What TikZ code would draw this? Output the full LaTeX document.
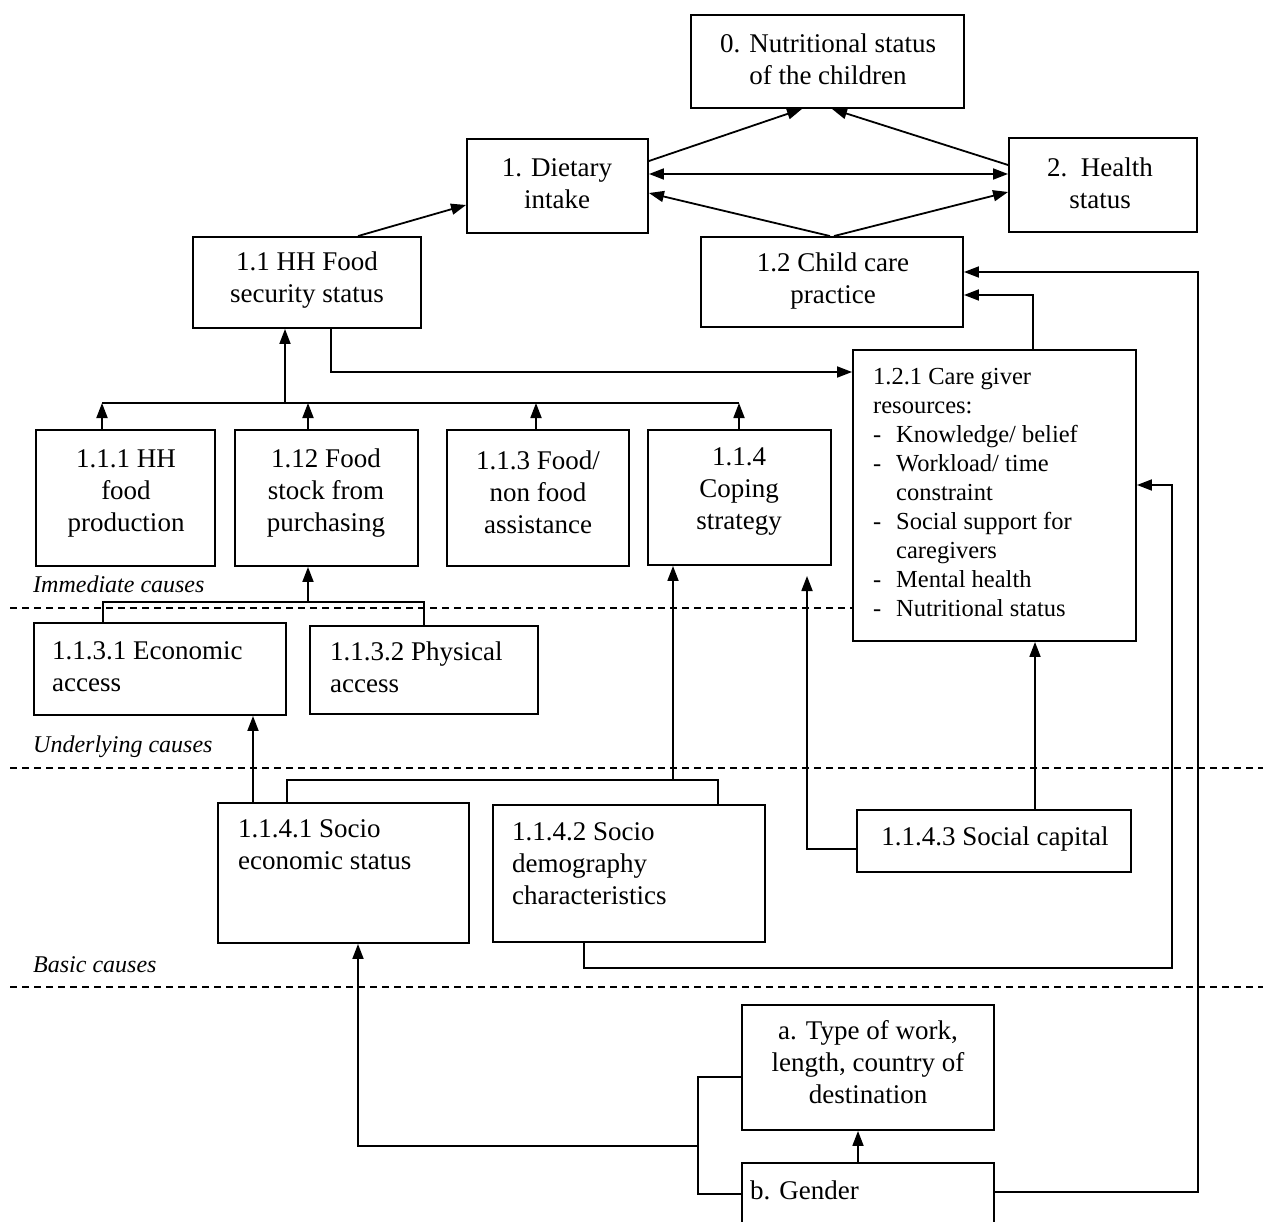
\documentclass[tikz,border=0pt]{standalone}
\usepackage{fontspec}
\setmainfont{Liberation Serif}
\usetikzlibrary{arrows.meta,calc}

\begin{document}
\begin{tikzpicture}[x=1pt,y=-1pt,
  box/.style={draw, line width=1.9pt, fill=white, inner sep=0pt},
  txt/.style={inner sep=0pt, align=center, font=\fontsize{27}{32}\selectfont},
  ltxt/.style={inner sep=0pt, align=left, anchor=west, font=\fontsize{27}{32}\selectfont},
  link/.style={line width=1.8pt},
  arr/.style={link, -{Triangle[length=15pt,width=11pt]}},
  dblarr/.style={link, {Triangle[length=15pt,width=11pt]}-{Triangle[length=15pt,width=11pt]}},
  level/.style={line width=1.6pt, dash pattern=on 7pt off 5pt},
  tier/.style={inner sep=0pt, anchor=west, font=\fontsize{24}{28}\selectfont\itshape}
]
\useasboundingbox (0,0) rectangle (1263,1222);
\clip (0,0) rectangle (1263,1222);
\fill[white] (0,0) rectangle (1263,1222);

% level separators
\draw[level] (10,608) -- (853,608);
\draw[level] (10,768) -- (1263,768);
\draw[level] (10,987) -- (1263,987);
\node[tier] (lab1) at (33,584) {Immediate causes};
\node[tier] (lab2) at (33,747) {Underlying causes};
\node[tier] (lab3) at (33,965) {Basic causes};

% boxes
\node[box, minimum width=273pt, minimum height=93pt]  (n0)    at (827.5,61.5) {};
\node[box, minimum width=181pt, minimum height=94pt]  (n1)    at (557.5,186)  {};
\node[box, minimum width=188pt, minimum height=94pt]  (n2)    at (1103,185)   {};
\node[box, minimum width=228pt, minimum height=91pt]  (n11)   at (307,282.5)  {};
\node[box, minimum width=262pt, minimum height=90pt]  (n12)   at (832,282)    {};
\node[box, minimum width=283pt, minimum height=291pt] (n121)  at (994.5,495.5){};
\node[box, minimum width=179pt, minimum height=136pt] (n111)  at (125.5,498)  {};
\node[box, minimum width=183pt, minimum height=136pt] (n112)  at (326.5,498)  {};
\node[box, minimum width=182pt, minimum height=136pt] (n113)  at (538,498)    {};
\node[box, minimum width=183pt, minimum height=135pt] (n114)  at (739.5,497.5){};
\node[box, minimum width=252pt, minimum height=92pt]  (n1131) at (160,669)    {};
\node[box, minimum width=228pt, minimum height=88pt]  (n1132) at (424,670)    {};
\node[box, minimum width=251pt, minimum height=140pt] (n1141) at (343.5,873)  {};
\node[box, minimum width=272pt, minimum height=137pt] (n1142) at (629,873.5)  {};
\node[box, minimum width=274pt, minimum height=62pt]  (n1143) at (994,841)    {};
\node[box, minimum width=252pt, minimum height=125pt] (na)    at (868,1067.5) {};
\node[box, minimum width=252pt, minimum height=77pt]  (nb)    at (868,1201.5) {};

% box texts
\node[txt] (n0t)   at (828,59)   {0. Nutritional status\\of the children};
\node[txt] (n1t)   at (557,184)  {1. Dietary\\intake};
\node[txt] (n2t)   at (1100,183) {2.\ \ Health\\status};
\node[txt] (n11t)  at (307,280)  {1.1 HH Food\\security status};
\node[txt] (n12t)  at (833,281)  {1.2 Child care\\practice};
\node[txt] (n111t) at (126,493)  {1.1.1 HH\\food\\production};
\node[txt] (n112t) at (326,493)  {1.12 Food\\stock from\\purchasing};
\node[txt] (n113t) at (538,492)  {1.1.3 Food/\\non food\\assistance};
\node[txt] (n114t) at (739,491)  {1.1.4\\Coping\\strategy};
\node[ltxt] (n1131t) at (52,667)  {1.1.3.1 Economic\\access};
\node[ltxt] (n1132t) at (330,667) {1.1.3.2 Physical\\access};
\node[ltxt] (n1141t) at (238,845) {1.1.4.1 Socio\\economic status};
\node[ltxt] (n1142t) at (512,864) {1.1.4.2 Socio\\demography\\characteristics};
\node[txt] (n1143t) at (995,839) {1.1.4.3 Social capital};
\node[txt] (nat)   at (868,1062) {a. Type of work,\\length, country of\\destination};
\node[ltxt] (nbt)  at (750,1190) {b. Gender};
\node[ltxt, font=\fontsize{24.5}{29}\selectfont] (n121t) at (873,493)
  {1.2.1 Care giver\\
   resources:\\
   \makebox[23pt][l]{-}Knowledge/ belief\\
   \makebox[23pt][l]{-}Workload/ time\\
   \hspace*{23pt}constraint\\
   \makebox[23pt][l]{-}Social support for\\
   \hspace*{23pt}caregivers\\
   \makebox[23pt][l]{-}Mental health\\
   \makebox[23pt][l]{-}Nutritional status};

% top level links
\draw[arr] (n1.east |- 0,161) -- (n0.south -| 802,0);
\draw[arr] (n2.west |- 0,165) -- (n0.south -| 832,0);
\draw[dblarr] (n1.east |- 0,174) -- (n2.west |- 0,174);
\draw[arr] (n12.north -| 830,0) -- (n1.east |- 0,193);
\draw[arr] (n12.north -| 834,0) -- (n2.west |- 0,192);
\draw[arr] (n11.north -| 358,0) -- (n1.west |- 0,205);

% household food security to care giver resources
\draw[arr] (n11.south -| 331,0) -- (331,372) -- (n121.west |- 0,372);

% immediate causes to food security
\draw[link] (102,403) -- (739,403);
\draw[arr] (n111.north -| 102,0) -- (102,403);
\draw[arr] (n112.north -| 308,0) -- (308,403);
\draw[arr] (n113.north -| 536,0) -- (536,403);
\draw[arr] (n114.north -| 739,0) -- (739,403);
\draw[arr] (285,403) -- (n11.south -| 285,0);

% access to food stock
\draw[link] (n1131.north -| 103,0) -- (103,602) -- (424,602) -- (n1132.north -| 424,0);
\draw[arr] (308,602) -- (n112.south -| 308,0);

% basic causes
\draw[arr] (n1141.north -| 253,0) -- (n1131.south -| 253,0);
\draw[link] (n1141.north -| 287,0) -- (287,780) -- (718,780) -- (n1142.north -| 718,0);
\draw[arr] (673,780) -- (n114.south -| 673,0);
\coordinate (capend) at (807,576);
\draw[arr] (n1143.west |- 0,849) -- (807,849) -- (capend);
\draw[arr] (n1143.north -| 1035,0) -- (n121.south -| 1035,0);
\draw[arr] (n121.north -| 1033,0) -- (1033,295) -- (n12.east |- 0,295);
\draw[arr] (n1142.south -| 584,0) -- (584,968) -- (1172,968) -- (1172,485) -- (n121.east |- 0,485);

% migration factors
\draw[arr] (nb.north -| 858,0) -- (na.south -| 858,0);
\draw[arr] (nb.east |- 0,1192) -- (1198,1192) -- (1198,272) -- (n12.east |- 0,272);
\draw[link] (na.west |- 0,1077) -- (698,1077) -- (698,1194) -- (nb.west |- 0,1194);
\draw[arr] (698,1146) -- (358,1146) -- (n1141.south -| 358,0);
\end{tikzpicture}
\end{document}
